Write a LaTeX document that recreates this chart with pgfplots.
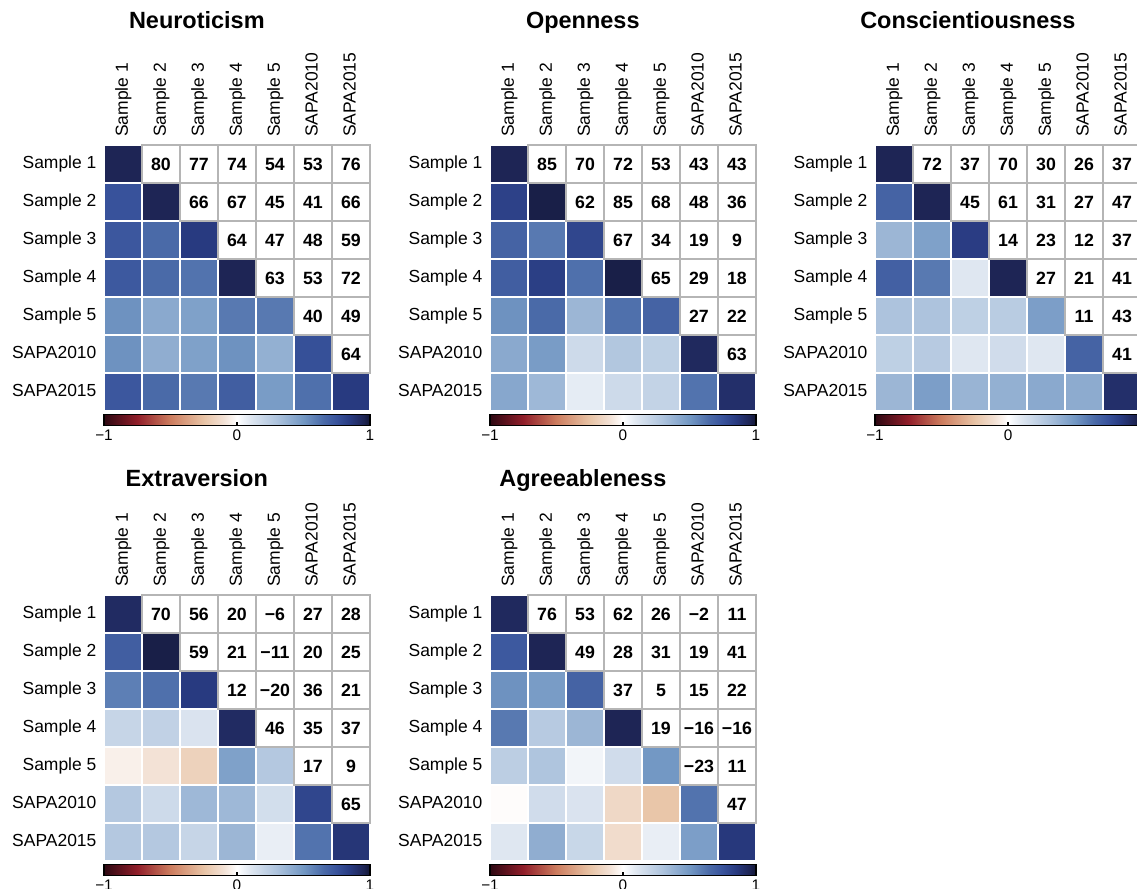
\documentclass[border=0pt]{standalone}
\usepackage{fontspec}
\setmainfont{Liberation Sans}
\usepackage{pgfplots}
\pgfplotsset{compat=1.18}
\newcommand\labfont{\fontsize{13.1pt}{15pt}\selectfont}
\newcommand\numfont{\bfseries\fontsize{13.3pt}{15pt}\selectfont}
\newcommand\titfont{\bfseries\fontsize{17.6pt}{20pt}\selectfont}
\newcommand\cbfont{\fontsize{11.5pt}{13pt}\selectfont}
\pgfplotsset{
  colormap={corr}{
    rgb255(0)=(45,8,18)
    rgb255(25)=(145,30,42)
    rgb255(50)=(205,125,95)
    rgb255(75)=(232,196,166)
    rgb255(90)=(243,226,214)
    rgb255(100)=(255,255,255)
    rgb255(110)=(223,231,241)
    rgb255(130)=(173,195,221)
    rgb255(150)=(115,152,196)
    rgb255(165)=(74,106,168)
    rgb255(175)=(56,82,155)
    rgb255(185)=(40,58,128)
    rgb255(195)=(30,37,85)
    rgb255(200)=(18,22,52)
  },
  corrpanel/.style={
    width=199.5pt, height=199.5pt, scale only axis,
    anchor=north west,
    xmin=-0.5, xmax=6.5, ymin=-0.5, ymax=6.5,
    xtick={0,...,6}, ytick={0,...,6},
    xticklabels={Sample 1,Sample 2,Sample 3,Sample 4,Sample 5,SAPA2010,SAPA2015},
    yticklabels={SAPA2015,SAPA2010,Sample 5,Sample 4,Sample 3,Sample 2,Sample 1},
    xticklabel pos=upper,
    major tick length=0pt,
    axis on top,
    axis line style={draw=black!29, line width=1.1pt},
    xticklabel style={rotate=90, anchor=west, inner sep=0pt, font=\labfont, text depth=0.21em},
    yticklabel style={anchor=east, inner sep=0pt, font=\labfont, text depth=0.21em},
    xticklabel shift=6pt, yticklabel shift=5.5pt,
    colormap name=corr, point meta min=-1, point meta max=1,
    colorbar horizontal,
    colorbar style={
      at={(parent axis.south west)}, anchor=north west, yshift=6pt,
      width=199.5pt, height=8.25pt, scale only axis,
      xtick={-1,0,1}, xticklabels={−1,0,1},
      ytick=\empty,
      xtick pos=left, xtick align=inside, major tick length=2.5pt,
      xticklabel style={font=\cbfont, inner sep=0pt},
      xticklabel shift=3pt,
      axis line style={draw=black, line width=1.1pt},
      every tick/.style={black, line width=0.8pt},
    },
    title style={font=\titfont, at={(axis description cs:0.349,1)}, anchor=base, yshift=81.35pt},
    clip=false,
  },
  cellplot/.style={scatter, only marks, mark=square*, mark size=14.25pt,
    point meta=explicit,
    scatter/use mapped color={draw=white, fill=mapped color},
    every mark/.append style={line width=1.5pt}},
  numplot/.style={only marks, mark=square, mark size=14.25pt,
    mark options={draw=black!29, line width=1.1pt, fill=none},
    point meta=explicit symbolic, nodes near coords,
    nodes near coords style={anchor=center, font=\numfont, inner sep=0pt, text=black}},
}
\begin{document}
\begin{tikzpicture}
% ---------------- Neuroticism
\begin{axis}[corrpanel, at={(78pt,-108.75pt)}, title={Neuroticism}]
\addplot[cellplot] table[meta=c] {
x y c
0 6 0.95
0 5 0.75
1 5 0.95
0 4 0.73
1 4 0.65
2 4 0.85
0 3 0.72
1 3 0.65
2 3 0.62
3 3 0.95
0 2 0.52
1 2 0.42
2 2 0.46
3 2 0.60
4 2 0.60
0 1 0.52
1 1 0.40
2 1 0.46
3 1 0.52
4 1 0.39
5 1 0.76
0 0 0.73
1 0 0.65
2 0 0.60
3 0 0.70
4 0 0.48
5 0 0.63
6 0 0.85
};
\addplot[numplot] coordinates {
(1,6)[80] (2,6)[77] (3,6)[74] (4,6)[54] (5,6)[53] (6,6)[76]
(2,5)[66] (3,5)[67] (4,5)[45] (5,5)[41] (6,5)[66]
(3,4)[64] (4,4)[47] (5,4)[48] (6,4)[59]
(4,3)[63] (5,3)[53] (6,3)[72]
(5,2)[40] (6,2)[49]
(6,1)[64]
};
\end{axis}
% ---------------- Openness
\begin{axis}[corrpanel, at={(367.5pt,-108.75pt)}, title={Openness}]
\addplot[cellplot] table[meta=c] {
x y c
0 6 0.95
0 5 0.82
1 5 0.97
0 4 0.68
1 4 0.60
2 4 0.80
0 3 0.70
1 3 0.83
2 3 0.63
3 3 0.97
0 2 0.52
1 2 0.65
2 2 0.36
3 2 0.63
4 2 0.68
0 1 0.42
1 1 0.48
2 1 0.17
3 1 0.28
4 1 0.23
5 1 0.93
0 0 0.43
1 0 0.35
2 0 0.08
3 0 0.17
4 0 0.21
5 0 0.62
6 0 0.90
};
\addplot[numplot] coordinates {
(1,6)[85] (2,6)[70] (3,6)[72] (4,6)[53] (5,6)[43] (6,6)[43]
(2,5)[62] (3,5)[85] (4,5)[68] (5,5)[48] (6,5)[36]
(3,4)[67] (4,4)[34] (5,4)[19] (6,4)[9]
(4,3)[65] (5,3)[29] (6,3)[18]
(5,2)[27] (6,2)[22]
(6,1)[63]
};
\end{axis}
% ---------------- Conscientiousness
\begin{axis}[corrpanel, at={(656.25pt,-108.75pt)}, title={Conscientiousness}]
\addplot[cellplot] table[meta=c] {
x y c
0 6 0.95
0 5 0.68
1 5 0.95
0 4 0.36
1 4 0.46
2 4 0.84
0 3 0.69
1 3 0.60
2 3 0.10
3 3 0.95
0 2 0.30
1 2 0.30
2 2 0.23
3 2 0.25
4 2 0.47
0 1 0.23
1 1 0.26
2 1 0.10
3 1 0.16
4 1 0.10
5 1 0.68
0 0 0.36
1 0 0.47
2 0 0.37
3 0 0.39
4 0 0.42
5 0 0.41
6 0 0.90
};
\addplot[numplot] coordinates {
(1,6)[72] (2,6)[37] (3,6)[70] (4,6)[30] (5,6)[26] (6,6)[37]
(2,5)[45] (3,5)[61] (4,5)[31] (5,5)[27] (6,5)[47]
(3,4)[14] (4,4)[23] (5,4)[12] (6,4)[37]
(4,3)[27] (5,3)[21] (6,3)[41]
(5,2)[11] (6,2)[43]
(6,1)[41]
};
\end{axis}
% ---------------- Extraversion
\begin{axis}[corrpanel, at={(78pt,-446.25pt)}, title={Extraversion},
  title style={yshift=-6pt}]
\addplot[cellplot] table[meta=c] {
x y c
0 6 0.92
0 5 0.70
1 5 0.97
0 4 0.58
1 4 0.63
2 4 0.85
0 3 0.20
1 3 0.22
2 3 0.12
3 3 0.92
0 2 -0.05
1 2 -0.10
2 2 -0.18
3 2 0.46
4 2 0.27
0 1 0.27
1 1 0.17
2 1 0.35
3 1 0.35
4 1 0.15
5 1 0.80
0 0 0.27
1 0 0.27
2 0 0.20
3 0 0.36
4 0 0.07
5 0 0.62
6 0 0.87
};
\addplot[numplot] coordinates {
(1,6)[70] (2,6)[56] (3,6)[20] (4,6)[−6] (5,6)[27] (6,6)[28]
(2,5)[59] (3,5)[21] (4,5)[−11] (5,5)[20] (6,5)[25]
(3,4)[12] (4,4)[−20] (5,4)[36] (6,4)[21]
(4,3)[46] (5,3)[35] (6,3)[37]
(5,2)[17] (6,2)[9]
(6,1)[65]
};
\end{axis}
% ---------------- Agreeableness
\begin{axis}[corrpanel, at={(367.5pt,-446.25pt)}, title={Agreeableness},
  title style={yshift=-6pt}]
\addplot[cellplot] table[meta=c] {
x y c
0 6 0.93
0 5 0.72
1 5 0.95
0 4 0.52
1 4 0.48
2 4 0.68
0 3 0.60
1 3 0.26
2 3 0.36
3 3 0.95
0 2 0.24
1 2 0.29
2 2 0.04
3 2 0.16
4 2 0.50
0 1 -0.01
1 1 0.16
2 1 0.12
3 1 -0.15
4 1 -0.24
5 1 0.62
0 0 0.10
1 0 0.40
2 0 0.19
3 0 -0.13
4 0 0.07
5 0 0.47
6 0 0.86
};
\addplot[numplot] coordinates {
(1,6)[76] (2,6)[53] (3,6)[62] (4,6)[26] (5,6)[−2] (6,6)[11]
(2,5)[49] (3,5)[28] (4,5)[31] (5,5)[19] (6,5)[41]
(3,4)[37] (4,4)[5] (5,4)[15] (6,4)[22]
(4,3)[19] (5,3)[−16] (6,3)[−16]
(5,2)[−23] (6,2)[11]
(6,1)[47]
};
\end{axis}
\pgfresetboundingbox
\useasboundingbox (0pt,0pt) rectangle (852.75pt,-666pt);
\end{tikzpicture}
\end{document}
